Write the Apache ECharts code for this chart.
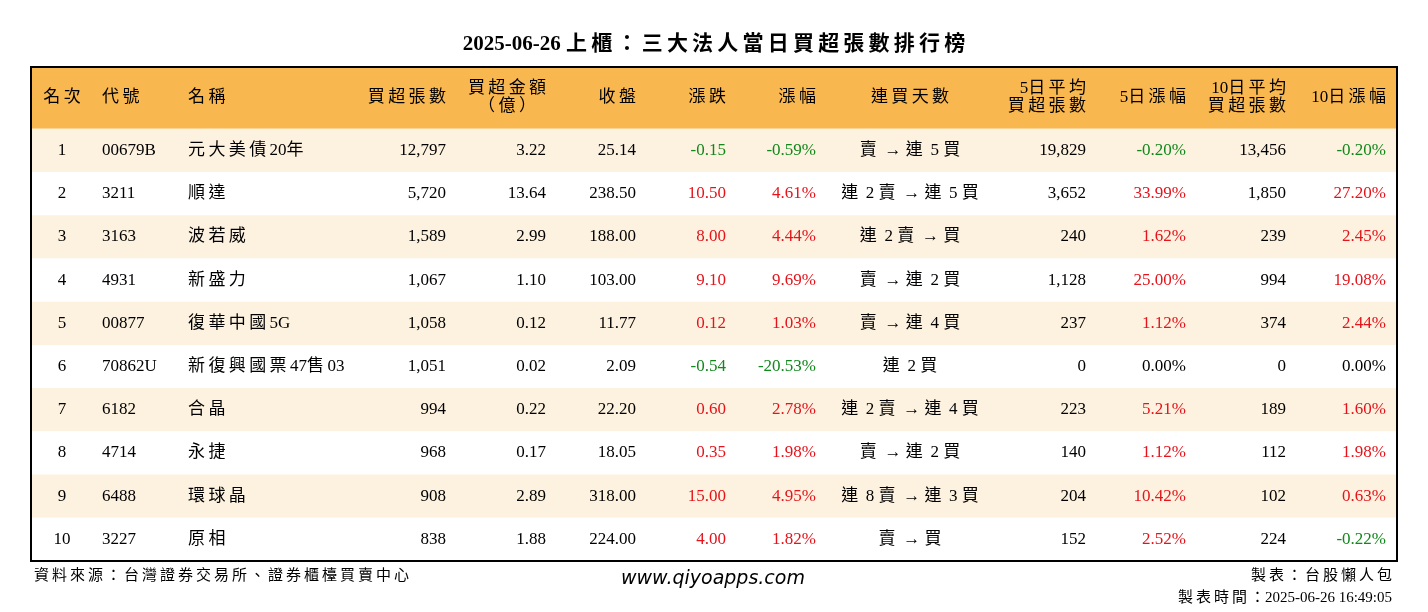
<!DOCTYPE html><html><head><meta charset="utf-8"><script src="https://cdn.jsdelivr.net/npm/echarts@6/dist/echarts.min.js"></script>
<style>html,body{margin:0;padding:0;background:#fff}#c{width:1428px;height:612px}</style></head><body><div id="c"></div><script>
const title='2025-06-26 上櫃：三大法人當日買超張數排行榜';
const headers=['名次','代號','名稱','買超張數','買超金額\n（億）','收盤','漲跌','漲幅','連買天數','5日平均\n買超張數','5日漲幅','10日平均\n買超張數','10日漲幅'];
const ranks=['1','2','3','4','5','6','7','8','9','10'];
const codes=['00679B','3211','3163','4931','00877','70862U','6182','4714','6488','3227'];
const names=['元大美債20年','順達','波若威','新盛力','復華中國5G','新復興國票47售03','合晶','永捷','環球晶','原相'];
const buyVol=['12,797','5,720','1,589','1,067','1,058','1,051','994','968','908','838'];
const buyAmt=['3.22','13.64','2.99','1.10','0.12','0.02','0.22','0.17','2.89','1.88'];
const closes=['25.14','238.50','188.00','103.00','11.77','2.09','22.20','18.05','318.00','224.00'];
const changes=['-0.15','10.50','8.00','9.10','0.12','-0.54','0.60','0.35','15.00','4.00'];
const pcts=['-0.59%','4.61%','4.44%','9.69%','1.03%','-20.53%','2.78%','1.98%','4.95%','1.82%'];
const streaks=['賣 → 連 5 買','連 2 賣 → 連 5 買','連 2 賣 → 買','賣 → 連 2 買','賣 → 連 4 買','連 2 買','連 2 賣 → 連 4 買','賣 → 連 2 買','連 8 賣 → 連 3 買','賣 → 買'];
const avg5=['19,829','3,652','240','1,128','237','0','223','140','204','152'];
const pct5=['-0.20%','33.99%','1.62%','25.00%','1.12%','0.00%','5.21%','1.12%','10.42%','2.52%'];
const avg10=['13,456','1,850','239','994','374','0','189','112','102','224'];
const pct10=['-0.20%','27.20%','2.45%','19.08%','2.44%','0.00%','1.60%','1.98%','0.63%','-0.22%'];
const cols=[ranks,codes,names,buyVol,buyAmt,closes,changes,pcts,streaks,avg5,pct5,avg10,pct10];
const colX=[62,102,188,446,546,636,726,816,910,1086,1186,1286,1386];
const colAlign=['center','left','left','right','right','right','right','right','center','right','right','right','right'];
const hdrX=[62,102,188,446,507,636,726,816,910,1086,1186,1286,1386];
const hdrAlign=['center','left','left','right','center','right','right','right','center','right','right','right','right'];
const signed=[6,7,10,12];
const FONT='"Liberation Serif","Noto Sans CJK TC",serif';
// widen CJK glyph spacing
const sp=s=>s.replace(/([\u3000-\u9fff\uff00-\uffef])(?=[^\n])/g,'$1\u2009');
const cells=[];
headers.forEach((h,c)=>cells.push([hdrX[c],-0.715,sp(h),'#000',hdrAlign[c],0]));
cols.forEach((arr,c)=>arr.forEach((v,r)=>{
  let col='#000';
  if(signed.includes(c)){const n=parseFloat(v);col=n>0?'#e5131b':n<0?'#11881c':'#000';}
  cells.push([colX[c],r+0.5,sp(v),col,colAlign[c],0]);
}));
const rows=[[-1.43,0,'#f8b74f']];
for(let r=0;r<10;r++)rows.push([r,r+1,r%2===0?'#fdf2df':'#ffffff']);
const ch=echarts.init(document.getElementById('c'));
ch.setOption({
 animation:false,
 title:{text:sp(title),left:'center',top:29,textStyle:{fontFamily:FONT,fontSize:21,fontWeight:'bold',color:'#000'}},
 grid:{left:0,right:0,top:67,bottom:51},
 xAxis:{type:'value',min:0,max:1428,show:false},
 yAxis:{type:'value',min:-1.43,max:10,inverse:true,show:false},
 series:[
  {type:'custom',data:rows,renderItem:(p,api)=>{
    const a=api.coord([31,api.value(0)]),b=api.coord([1397,api.value(1)]);
    return {type:'rect',shape:{x:a[0],y:a[1],width:b[0]-a[0],height:b[1]-a[1]},style:{fill:rows[p.dataIndex][2]}};
  },z:1},
  {type:'custom',data:[[0]],renderItem:(p,api)=>{
    const a=api.coord([31,-1.43]),b=api.coord([1397,10]);
    return {type:'rect',shape:{x:a[0],y:a[1],width:b[0]-a[0],height:b[1]-a[1]},style:{fill:null,stroke:'#000',lineWidth:2}};
  },z:3},
  {type:'custom',data:cells.map(c=>[c[0],c[1]]),renderItem:(p,api)=>{
    const c=cells[p.dataIndex];const pt=api.coord([c[0],c[1]]);
    return {type:'text',x:pt[0],y:pt[1],style:{text:c[2],fill:c[3],align:c[4],verticalAlign:'middle',font:'17px '+FONT,lineHeight:18}};
  },z:4}
 ],
 graphic:[
  {type:'text',left:34,top:569,style:{text:sp('資料來源：台灣證券交易所、證券櫃檯買賣中心'),font:'15px '+FONT,fill:'#000'}},
  {type:'text',left:621,top:570,style:{text:'www.qiyoapps.com',font:'italic 19px "DejaVu Sans",sans-serif',fill:'#000'}},
  {type:'text',right:36,top:569,style:{text:sp('製表：台股懶人包'),font:'15px '+FONT,fill:'#000',align:'right'}},
  {type:'text',right:36,top:591,style:{text:sp('製表時間：')+'2025-06-26 16:49:05',font:'15px '+FONT,fill:'#000',align:'right'}}
 ]
});
</script></body></html>
